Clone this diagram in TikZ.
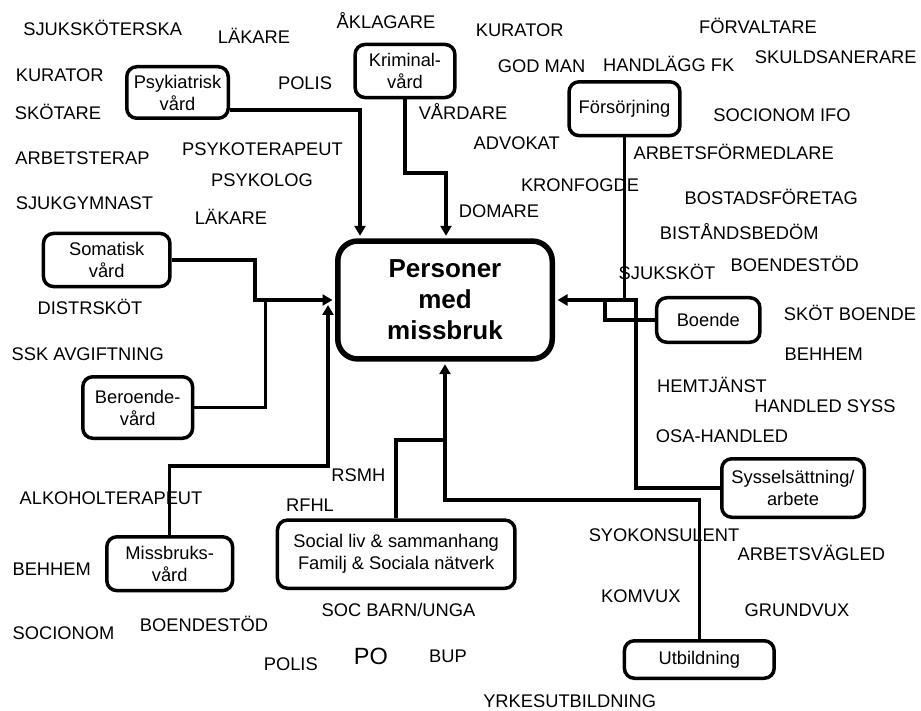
\documentclass[tikz,border=0pt]{standalone}
\usepackage{fontspec}
\setmainfont{Liberation Sans}
\usetikzlibrary{arrows.meta}

\newcommand\lblfont{\fontsize{18.3}{22}\selectfont}
\newcommand\hubfont{\fontsize{26}{31}\selectfont\bfseries}

\begin{document}
\begin{tikzpicture}[x=1pt,y=-1pt,
  lbl/.style={anchor=base,inner sep=0pt,font=\lblfont},
  box/.style={draw,line width=3.5pt,rounded corners=10pt,align=center,
    inner sep=0pt,font=\lblfont},
  hub/.style={draw,line width=5.5pt,rounded corners=20pt,align=center,
    inner sep=0pt,font=\hubfont,minimum width=214.5pt,minimum height=117.9pt},
  conn/.style={line width=3.5pt},
  arr/.style={conn,-{Triangle[length=10pt,width=11pt]},shorten >=2.5pt}]

\fill[white] (0,0) rectangle (921,711);
\useasboundingbox (0,0) rectangle (921,711);

% central box
\node[hub] (center) at (445,300) {Personer\\med\\missbruk};

% surrounding areas
\node[box,minimum width=101.5pt,minimum height=51.5pt] (psyk) at (177.5,92.5) {Psykiatrisk\\vård};
\node[box,minimum width=99.8pt,minimum height=53.1pt] (krim) at (405,71) {Kriminal-\\vård};
\node[box,minimum width=110.9pt,minimum height=53.8pt] (fors) at (624.5,108.7) {Försörjning};
\node[box,minimum width=126.5pt,minimum height=53.1pt] (soma) at (106.7,260) {Somatisk\\vård};
\node[box,minimum width=109.8pt,minimum height=61.5pt] (ber) at (137.7,407.5) {Beroende-\\vård};
\node[box,minimum width=125.8pt,minimum height=53.8pt] (miss) at (169.7,563.7) {Missbruks-\\vård};
\node[box,minimum width=237.5pt,minimum height=68.2pt] (soc) at (396.2,554.2) {Social liv \& sammanhang\\Familj \& Sociala nätverk};
\node[box,minimum width=103.2pt,minimum height=44.5pt] (boende) at (708.3,320) {Boende};
\node[box,minimum width=142.5pt,minimum height=58.5pt] (syss) at (793,488) {Sysselsättning/\\arbete};
\node[box,minimum width=149.8pt,minimum height=37.5pt] (utb) at (699.3,659.5) {Utbildning};

% junction points of the connectors
\coordinate (pk) at (360,110);
\coordinate (kk) at (446,173);
\coordinate (sj) at (255,300);
\coordinate (bj) at (265.7,300);
\coordinate (mj) at (328,466);
\coordinate (mt) at (328,305);
\coordinate (scj) at (445,440);
\coordinate (uj) at (445,500);
\coordinate (rj) at (636,300);
\coordinate (bo) at (605,300);

% connectors
\draw[arr] (psyk.east |- pk) -| (center.north -| pk);
\draw[arr] (krim.south) |- (kk) -- (kk |- center.north);
\draw[arr] (soma.east) -| (sj) -- (center.west);
\draw[conn] (ber.east) -| (bj);
\draw[arr,shorten >=0pt] (miss.north) |- (mj) -- (mt);
\draw[conn] (soc.north) |- (scj);
\draw[arr] (utb.north) |- (uj) -- (center.south);
\draw[arr] (syss.west) -| (rj) -- (center.east);
\draw[conn] (fors.south) -- (fors.south |- rj);
\draw[conn] (boende.west) -| (bo);

% professions and actors
\node[lbl] (sjukskoterska) at (102.7,36) {SJUKSKÖTERSKA};
\node[lbl] (lakare1) at (254,43.3) {LÄKARE};
\node[lbl] (aklagare) at (386,28.3) {ÅKLAGARE};
\node[lbl] (kuratorL) at (59.7,81.7) {KURATOR};
\node[lbl] (polis1) at (305,89.3) {POLIS};
\node[lbl] (skotare) at (58,119.3) {SKÖTARE};
\node[lbl] (arbetsterap) at (82.5,165) {ARBETSTERAP};
\node[lbl] (psykoterapeut) at (262.5,156) {PSYKOTERAPEUT};
\node[lbl] (psykolog) at (262,186.7) {PSYKOLOG};
\node[lbl] (sjukgymnast) at (84.5,209.3) {SJUKGYMNAST};
\node[lbl] (lakare2) at (231,225) {LÄKARE};
\node[lbl] (kuratorR) at (519.7,36.7) {KURATOR};
\node[lbl] (forvaltare) at (758,33.3) {FÖRVALTARE};
\node[lbl] (godman) at (541.7,73) {GOD MAN};
\node[lbl] (handlagg) at (668.8,72) {HANDLÄGG FK};
\node[lbl] (skuld) at (835.8,63.3) {SKULDSANERARE};
\node[lbl] (vardare) at (463,120) {VÅRDARE};
\node[lbl] (socifo) at (782,121.7) {SOCIONOM IFO};
\node[lbl] (advokat) at (516.7,149.3) {ADVOKAT};
\node[lbl] (arbetsform) at (733.7,160) {ARBETSFÖRMEDLARE};
\node[lbl] (kronfogde) at (580,191.7) {KRONFOGDE};
\node[lbl] (bostad) at (771.3,205) {BOSTADSFÖRETAG};
\node[lbl] (domare) at (499,217.3) {DOMARE};
\node[lbl] (bistand) at (739.3,239.5) {BISTÅNDSBEDÖM};
\node[lbl] (boendestodR) at (794.7,271.7) {BOENDESTÖD};
\node[lbl] (sjukskot) at (667,279.3) {SJUKSKÖT};
\node[lbl] (sktboende) at (850,320) {SKÖT BOENDE};
\node[lbl] (behhemR) at (823.8,360) {BEHHEM};
\node[lbl] (hemtjanst) at (712,392.7) {HEMTJÄNST};
\node[lbl] (handledsyss) at (825,412.7) {HANDLED SYSS};
\node[lbl] (osa) at (722,442.7) {OSA-HANDLED};
\node[lbl] (syokons) at (664,541) {SYOKONSULENT};
\node[lbl] (arbetsvag) at (811.3,560) {ARBETSVÄGLED};
\node[lbl] (komvux) at (640.8,602.7) {KOMVUX};
\node[lbl] (grundvux) at (797,616.7) {GRUNDVUX};
\node[lbl] (yrkes) at (569.7,707) {YRKESUTBILDNING};
\node[lbl] (distrskot) at (90,315) {DISTRSKÖT};
\node[lbl] (sskavg) at (87.8,360) {SSK AVGIFTNING};
\node[lbl] (rsmh) at (358.3,481.7) {RSMH};
\node[lbl] (alkohol) at (111,504) {ALKOHOLTERAPEUT};
\node[lbl] (rfhl) at (310,511.7) {RFHL};
\node[lbl] (behhemL) at (51.7,575) {BEHHEM};
\node[lbl] (socbarn) at (398.5,616) {SOC BARN/UNGA};
\node[lbl] (socionom) at (63.5,639.3) {SOCIONOM};
\node[lbl] (boendestodL) at (204,631.7) {BOENDESTÖD};
\node[lbl] (polis2) at (290.8,670) {POLIS};
\node[lbl,font=\fontsize{23.5}{26}\selectfont] (po) at (370.8,664) {PO};
\node[lbl] (bup) at (448,662.7) {BUP};

\end{tikzpicture}
\end{document}
